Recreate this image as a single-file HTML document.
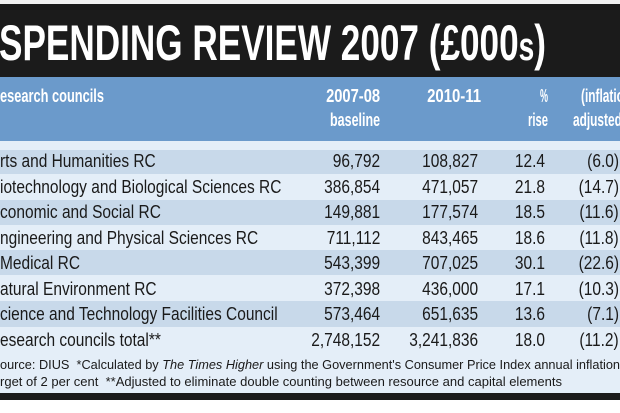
<!DOCTYPE html>
<html><head><meta charset="utf-8"><style>
html,body{margin:0;padding:0;}
body{width:620px;height:413px;overflow:hidden;background:#fff;position:relative;font-family:"Liberation Sans",sans-serif;}
.b{position:absolute;left:0;width:620px;}
.t{position:absolute;white-space:nowrap;transform-origin:0 0;}
.r{transform-origin:100% 0;}
</style></head><body>
<div class="b" style="top:0;height:4px;background:#f2f2f2"></div>
<div class="b" style="top:4px;height:73px;background:#1b1b1b"></div>
<div class="b" style="top:77px;height:64px;background:#6b9acb"></div>
<div class="b" style="top:141px;height:9px;background:#e4eef8"></div>
<div class="b" style="top:150px;height:24px;background:#c8d9ea"></div>
<div class="b" style="top:174px;height:26px;background:#e4eef8"></div>
<div class="b" style="top:200px;height:25px;background:#c8d9ea"></div>
<div class="b" style="top:225px;height:25px;background:#e4eef8"></div>
<div class="b" style="top:250px;height:25px;background:#c8d9ea"></div>
<div class="b" style="top:275px;height:26px;background:#e4eef8"></div>
<div class="b" style="top:301px;height:26px;background:#c8d9ea"></div>
<div class="b" style="top:327px;height:66px;background:#e4eef8"></div>
<div class="b" style="top:393px;height:7px;background:#1b1b1b"></div>

<div id="c"></div>
<script>
var c=document.getElementById('c');
function T(txt,x,y,size,w,opts){opts=opts||{};var d=document.createElement('div');d.className='t'+(opts.r?' r':'');d.innerHTML=txt;d.style.fontSize=size+'px';d.style.top=y+'px';d.style.color=opts.col||'#1a1a1a';if(opts.bold)d.style.fontWeight='bold';c.appendChild(d);var nw=d.getBoundingClientRect().width;var s=w>0?w/nw:-w;if(opts.r){d.style.left=(x-nw)+'px';}else d.style.left=x+'px';d.style.transform='scaleX('+s+')';}
T('SPENDING REVIEW 2007 (£000<span style="font-size:0.8em">s</span>)',-1,14,50,547,{bold:1,col:'#fff'});
var W='#fff';
T('esearch councils',0,86,18,104,{bold:1,col:W});
T('2007-08',380,86,18,54,{bold:1,col:W,r:1});
T('baseline',380,110,18,50,{bold:1,col:W,r:1});
T('2010-11',481,86,18,54,{bold:1,col:W,r:1});
T('%',548,86,18,8,{bold:1,col:W,r:1});
T('rise',548,110,18,20,{bold:1,col:W,r:1});
T('(inflation',581,86,18,-0.66,{bold:1,col:W});
T('adjusted)',573,110,18,-0.66,{bold:1,col:W});
var rows=[
['rts and Humanities RC','96,792','108,827','12.4','(6.0)'],
['iotechnology and Biological Sciences RC','386,854','471,057','21.8','(14.7)'],
['conomic and Social RC','149,881','177,574','18.5','(11.6)'],
['ngineering and Physical Sciences RC','711,112','843,465','18.6','(11.8)'],
['Medical RC','543,399','707,025','30.1','(22.6)'],
['atural Environment RC','372,398','436,000','17.1','(10.3)'],
['cience and Technology Facilities Council','573,464','651,635','13.6','(7.1)'],
['esearch councils total**','2,748,152','3,241,836','18.0','(11.2)']];
var ys=[151,177,202,228,253,279,304,330];
var S=-0.86;
rows.forEach(function(r,i){var y=ys[i];
T(r[0],0,y,18,S);
T(r[1],380,y,18,S,{r:1});
T(r[2],478,y,18,S,{r:1});
T(r[3],545,y,18,S,{r:1});
T(r[4],619,y,18,S,{r:1});});
T('ource: DIUS &nbsp;*Calculated by <i>The Times Higher</i> using the Government\'s Consumer Price Index annual inflation',0,357,13,620);
T('rget of 2 per cent &nbsp;**Adjusted to eliminate double counting between resource and capital elements',0,374,13,562);
</script>
</body></html>
